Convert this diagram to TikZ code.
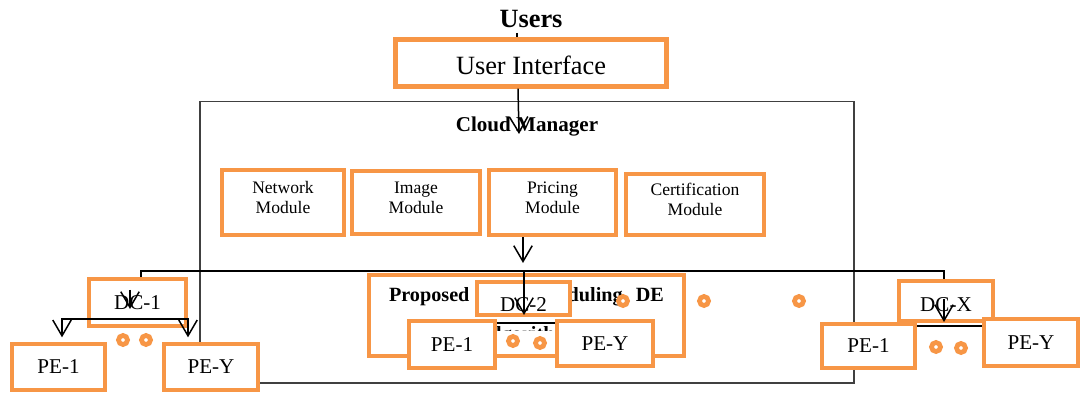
\documentclass[tikz,border=0pt]{standalone}
\usepackage{fontspec}
\setmainfont{Liberation Serif}
\usetikzlibrary{arrows.meta}
\definecolor{orng}{HTML}{F79646}
\def\pxu{0.02cm}
\begin{document}
\begin{tikzpicture}[x=0.02cm,y=-0.02cm,
 obox/.style={draw=orng,line width=2.5pt,fill=white,inner sep=0pt,align=center},
 sz/.style 2 args={minimum width=#1*\pxu,minimum height=#2*\pxu},
 arr/.style={-{Straight Barb[length=9pt,width=10.5pt]},line width=0.85pt},
 ln/.style={line width=0.85pt},
 ring/.style={circle,draw=orng,line width=2.7pt,fill=white,inner sep=0pt,minimum size=9*\pxu},
 mfont/.style={font=\fontsize{10}{11.5}\selectfont,text depth=5.5pt},
 dfont/.style={font=\fontsize{12}{14}\selectfont},
 afont/.style={font=\bfseries\fontsize{11.5}{14}\selectfont,inner sep=0pt,anchor=base}]
\useasboundingbox[fill=white] (0,0) rectangle (1080,394);

% Cloud manager frame
\node[draw=black!75,line width=0.8pt,inner sep=0pt,sz={654}{281.5}] (cm) at (527,242.25) {};
\node[font=\bfseries\fontsize{12}{14}\selectfont,inner sep=0pt,anchor=base] (cmt) at (527,132) {Cloud Manager};

% Users and UI
\node[font=\bfseries\fontsize{15}{18}\selectfont,inner sep=0pt] (users) at (531,19) {Users};
\node[obox,sz={271}{47},font=\fontsize{15}{18}\selectfont,text height=13pt] (ui) at (531,63) {User Interface};
\coordinate (utick) at (517,33);
\draw[ln] (utick) -- (utick |- ui.north);
\coordinate (uiend) at (519,134);
\draw[arr] ([xshift=-13*\pxu]ui.south) -- (uiend);

% Modules
\node[obox,line width=2.3pt,sz={122}{65},mfont] (net) at (283,202.5) {Network\\Module};
\node[obox,line width=2.3pt,sz={128}{63},mfont] (img) at (416,202.5) {Image\\Module};
\node[obox,line width=2.3pt,sz={127}{65},mfont] (pri) at (552.5,202.5) {Pricing\\Module};
\node[obox,line width=2.3pt,sz={138}{61},mfont] (cer) at (695,204.5) {Certification\\Module};
\coordinate (parr) at (523,263);
\draw[arr] (parr |- pri.south) -- (parr);

% Proposed algorithm box
\node[obox,sz={315}{81}] (alg) at (526.5,315.5) {};
\begin{scope}
\clip (alg.north west) rectangle (686,331);
\node[afont] (algt1) at (526.5,302) {\makebox[156.5pt][s]{Proposed\hfill Scheduling\hspace{7.5pt}DE}};
\node[afont] (algt2) at (526.5,341) {Algorithm};
\end{scope}

% DC-2 cluster
\node[obox,sz={93}{33},dfont,text height=15pt] (dc2) at (523.5,298.5) {DC-2};
\coordinate (busM) at (524,271);
\coordinate (dc2arr) at (524,315);
\draw[arr] (busM) -- (dc2arr);
\coordinate (l2a) at (452,323);
\coordinate (l2b) at (605,323);
\draw[ln] (l2a) -- (l2b);
\node[obox,sz={86}{47},dfont] (pe1m) at (452,344.5) {PE-1};
\node[obox,sz={96}{45},dfont] (peym) at (605,343.5) {PE-Y};

% DC-1 cluster
\node[obox,sz={96.5}{46.5},dfont] (dc1) at (137.5,302.5) {DC-1};
\node[obox,sz={92.5}{45.5},dfont] (pe1l) at (58.5,367) {PE-1};
\node[obox,sz={93.5}{45.5},dfont] (peyl) at (211,367) {PE-Y};
\coordinate (a1s) at (130,290);
\coordinate (a1e) at (130,309);
\draw[arr] (a1s) -- (a1e);
\coordinate (h1a) at (62,319);
\coordinate (h1b) at (188,319);
\draw[ln,{Straight Barb[length=9pt,width=10.5pt]}-{Straight Barb[length=9pt,width=10.5pt]},shorten <=2.7pt,shorten >=2.7pt]
 (h1a |- pe1l.north) -- (h1a) -- (h1b) -- (h1b |- peyl.north);

% DC-X cluster
\node[obox,sz={93.5}{39.5},dfont,text height=12.4pt] (dcx) at (946,301) {DC-X};
\coordinate (axs) at (944,299);
\coordinate (axe) at (944,322);
\draw[arr] (axs) -- (axe);
\coordinate (l3a) at (869,326);
\coordinate (l3b) at (1031,326);
\draw[ln] (l3a) -- (l3b);
\node[obox,sz={92.5}{43.5},dfont] (pe1r) at (868.5,346) {PE-1};
\node[obox,sz={93.5}{46.5},dfont] (peyr) at (1031,342.5) {PE-Y};

% Bus line
\coordinate (busL) at (141,271);
\coordinate (busR) at (944,271);
\draw[ln] (busL |- dc1.north) -- (busL) -- (busR) -- (busR |- dcx.north);

% rings
\node[ring] (c1) at (123,340) {};
\node[ring] (c2) at (146,340) {};
\node[ring] (c3) at (513,341) {};
\node[ring] (c4) at (540,343) {};
\node[ring] (c5) at (623,301) {};
\node[ring] (c6) at (704,301) {};
\node[ring] (c7) at (799,301) {};
\node[ring] (c8) at (936,347) {};
\node[ring] (c9) at (961,348) {};
\end{tikzpicture}
\end{document}
